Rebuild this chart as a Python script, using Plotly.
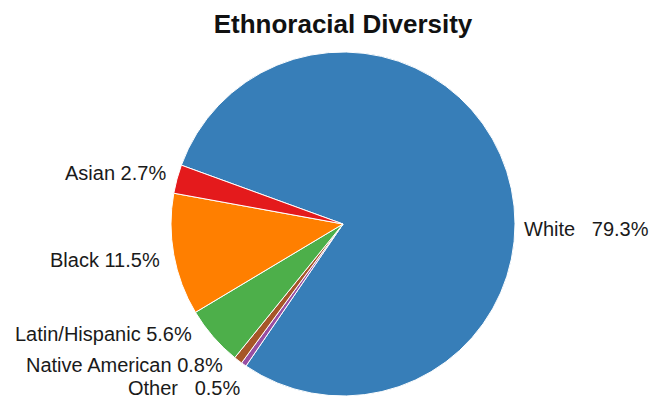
import plotly.graph_objects as go

labels = ["White", "Other", "Native American", "Latin/Hispanic", "Black", "Asian"]
percents = [79.3, 0.5, 0.8, 5.6, 11.5, 2.7]
colors = ["#377eb8", "#984ea3", "#a65628", "#4daf4a", "#ff7f00", "#e41a1c"]
separators = ["\u00a0\u00a0\u00a0", "\u00a0\u00a0\u00a0", " ", " ", " ", " "]

texts = [f"{l}{s}{p}%" for l, s, p in zip(labels, separators, percents)]

# label placement (paper coordinates of the plot area) and anchor side
label_x = [0.792, 0.335, 0.307, 0.257, 0.205, 0.215]
label_y = [0.486, 0.023, 0.090, 0.180, 0.395, 0.648]
label_side = ["left", "right", "right", "right", "right", "right"]

FONT = "Liberation Sans, Arial, sans-serif"

fig = go.Figure(go.Pie(
    labels=labels,
    values=percents,
    text=texts,
    textinfo="none",
    automargin=False,
    sort=False,
    direction="clockwise",
    rotation=-70,
    marker=dict(colors=colors, line=dict(color="white", width=1)),
    showlegend=False,
    hoverinfo="label+percent",
))

annotations = [
    dict(text=t, x=x, y=y, xref="paper", yref="paper", xanchor=s, yanchor="middle",
         showarrow=False, borderpad=0, font=dict(family=FONT, size=20, color="#1a1a1a"))
    for t, x, y, s in zip(texts, label_x, label_y, label_side)
]

fig.update_layout(
    width=651, height=399,
    margin=dict(l=35, r=0, t=52, b=3, autoexpand=False),
    paper_bgcolor="white",
    annotations=annotations,
    title=dict(text="<b>Ethnoracial Diversity</b>", x=0.5, xref="paper", y=0.94, yref="container",
               xanchor="center", yanchor="middle",
               font=dict(family=FONT, size=26, color="#111111")),
)

fig.write_html("out.html")
